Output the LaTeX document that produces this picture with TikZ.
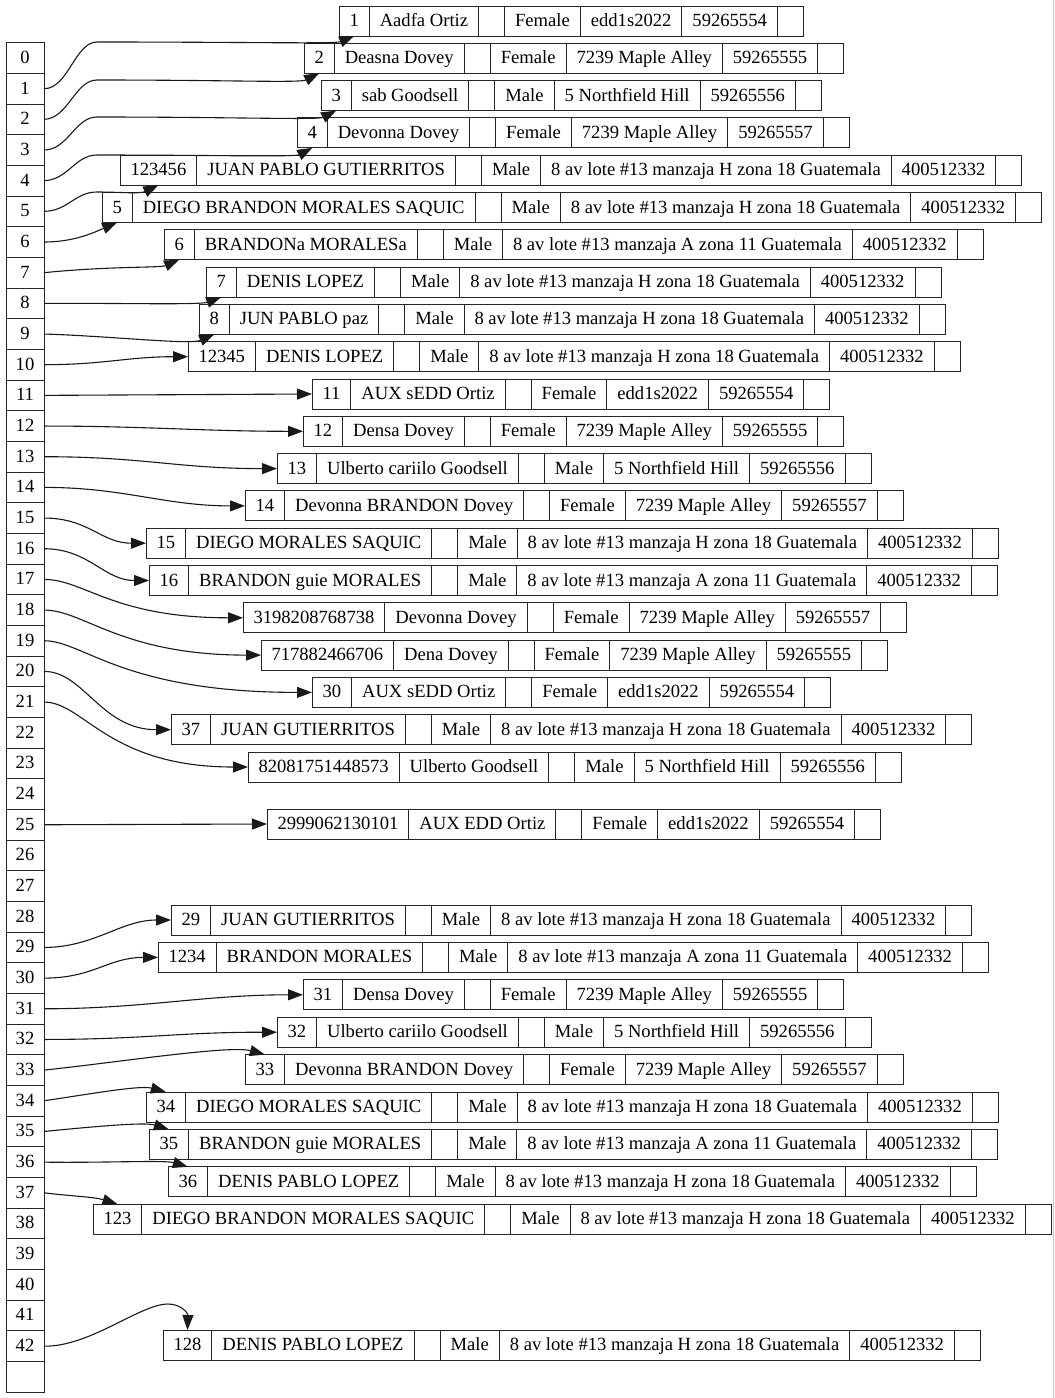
\documentclass[tikz,border=0pt]{standalone}
\usepackage{fontspec}
\setmainfont{Liberation Serif}
\usetikzlibrary{arrows.meta}
\tikzset{
 fld/.style={draw=black!85, line width=1pt, outer sep=0pt, minimum height=30pt, inner xsep=10.5pt, inner ysep=0pt, text height=14pt, text depth=3pt, font=\fontsize{18.6}{20}\selectfont, anchor=west},
 emp/.style={fld, minimum width=26pt},
 idx/.style={draw=black!85, line width=1pt, outer sep=0pt, minimum width=38pt, minimum height=30.67pt, inner sep=0pt, text height=14pt, text depth=3pt, font=\fontsize{18.6}{20}\selectfont},
 lnk/.style={line width=1.1pt, black!90, -{Triangle[length=15pt,width=11pt]}},
}
\newcommand\rec[8]{%
 \node[fld] (#1-1) at (#2,#3) {#4};
 \node[fld] (#1-2) at (#1-1.east) {#5};
 \node[emp] (#1-3) at (#1-2.east) {};
 \node[fld] (#1-4) at (#1-3.east) {#6};
 \node[fld] (#1-5) at (#1-4.east) {#7};
 \node[fld] (#1-6) at (#1-5.east) {#8};
 \node[emp] (#1-7) at (#1-6.east) {};
}
\newcommand\adH{8 av lote \#13 manzaja H zona 18 Guatemala}
\newcommand\adA{8 av lote \#13 manzaja A zona 11 Guatemala}
\begin{document}
\begin{tikzpicture}[x=1pt,y=-1pt]
\useasboundingbox (0,0) rectangle (1055,1398);
\draw[gray!45, line width=1pt] (1053.5,0) -- (1053.5,1398);
% index column
\foreach \i in {0,...,42} { \node[idx] (c\i) at (25,{58+30.67*\i}) {\i}; }
\node[idx] (c43) at (25,{58+30.67*43}) {};
% records
\rec{r1}{339}{21}{1}{Aadfa Ortiz}{Female}{edd1s2022}{59265554}
\rec{r2}{304}{58.3}{2}{Deasna Dovey}{Female}{7239 Maple Alley}{59265555}
\rec{r3}{321}{95.6}{3}{sab Goodsell}{Male}{5 Northfield Hill}{59265556}
\rec{r4}{297}{132.9}{4}{Devonna Dovey}{Female}{7239 Maple Alley}{59265557}
\rec{r5}{120}{170.2}{123456}{JUAN PABLO GUTIERRITOS}{Male}{\adH}{400512332}
\rec{r6}{102}{207.5}{5}{DIEGO BRANDON MORALES SAQUIC}{Male}{\adH}{400512332}
\rec{r7}{164}{244.8}{6}{BRANDONa MORALESa}{Male}{\adA}{400512332}
\rec{r8}{206}{282.1}{7}{DENIS LOPEZ}{Male}{\adH}{400512332}
\rec{r9}{199}{319.4}{8}{JUN PABLO paz}{Male}{\adH}{400512332}
\rec{r10}{188}{356.7}{12345}{DENIS LOPEZ}{Male}{\adH}{400512332}
\rec{r11}{312}{394}{11}{AUX sEDD Ortiz}{Female}{edd1s2022}{59265554}
\rec{r12}{303}{431.3}{12}{Densa Dovey}{Female}{7239 Maple Alley}{59265555}
\rec{r13}{277}{468.6}{13}{Ulberto cariilo Goodsell}{Male}{5 Northfield Hill}{59265556}
\rec{r14}{245}{505.9}{14}{Devonna BRANDON Dovey}{Female}{7239 Maple Alley}{59265557}
\rec{r15}{146}{543.2}{15}{DIEGO MORALES SAQUIC}{Male}{\adH}{400512332}
\rec{r16}{149}{580.5}{16}{BRANDON guie MORALES}{Male}{\adA}{400512332}
\rec{r17}{243}{617.8}{3198208768738}{Devonna Dovey}{Female}{7239 Maple Alley}{59265557}
\rec{r18}{261}{655.1}{717882466706}{Dena Dovey}{Female}{7239 Maple Alley}{59265555}
\rec{r19}{312}{692.4}{30}{AUX sEDD Ortiz}{Female}{edd1s2022}{59265554}
\rec{r20}{171}{729.7}{37}{JUAN GUTIERRITOS}{Male}{\adH}{400512332}
\rec{r21}{248}{767}{82081751448573}{Ulberto Goodsell}{Male}{5 Northfield Hill}{59265556}
\rec{r22}{267}{824}{2999062130101}{AUX EDD Ortiz}{Female}{edd1s2022}{59265554}
\rec{r23}{171}{920}{29}{JUAN GUTIERRITOS}{Male}{\adH}{400512332}
\rec{r24}{158}{957.4}{1234}{BRANDON MORALES}{Male}{\adA}{400512332}
\rec{r25}{303}{994.8}{31}{Densa Dovey}{Female}{7239 Maple Alley}{59265555}
\rec{r26}{277}{1032.2}{32}{Ulberto cariilo Goodsell}{Male}{5 Northfield Hill}{59265556}
\rec{r27}{245}{1069.6}{33}{Devonna BRANDON Dovey}{Female}{7239 Maple Alley}{59265557}
\rec{r28}{146}{1107}{34}{DIEGO MORALES SAQUIC}{Male}{\adH}{400512332}
\rec{r29}{149}{1144.4}{35}{BRANDON guie MORALES}{Male}{\adA}{400512332}
\rec{r30}{168}{1181.8}{36}{DENIS PABLO LOPEZ}{Male}{\adH}{400512332}
\rec{r31}{93}{1219.2}{123}{DIEGO BRANDON MORALES SAQUIC}{Male}{\adH}{400512332}
\rec{r32}{163}{1345}{128}{DENIS PABLO LOPEZ}{Male}{\adH}{400512332}
% links
\draw[lnk] (c1.east) .. controls (68,89) and (75,42) .. (97,42) .. controls (250,42) and (335,44) .. (r1-1.south);
\draw[lnk] (c2.east) .. controls (68,119) and (75,80) .. (97,80) .. controls (230,80) and (300,83) .. (r2-1.south);
\draw[lnk] (c3.east) .. controls (68,150) and (75,117) .. (97,117) .. controls (230,117) and (318,120) .. (r3-1.south);
\draw[lnk] (c4.east) .. controls (68,180) and (75,155) .. (97,155) .. controls (200,155) and (295,157) .. (r4-1.south);
\draw[lnk] (c5.east) .. controls (68,211) and (75,192) .. (97,192) .. controls (120,192) and (140,194) .. (r5-1.south);
\draw[lnk] (c6.east) .. controls (75,242) and (95,232) .. (r6-1.south);
\draw[lnk] (c7.east) .. controls (110,266) and (160,268) .. (r7-1.south);
\draw[lnk] (c8.east) .. controls (120,303) and (200,305) .. (r8-1.south);
\draw[lnk] (c9.east) .. controls (110,336) and (190,345) .. (r9-1.south);
\draw[lnk] (c10.east) .. controls +(60,0) and +(-60,0) .. (r10-1.west);
\draw[lnk] (c11.east) -- (r11-1.west);
\draw[lnk] (c12.east) .. controls +(100,0) and +(-100,0) .. (r12-1.west);
\draw[lnk] (c13.east) .. controls +(100,0) and +(-100,0) .. (r13-1.west);
\draw[lnk] (c14.east) .. controls +(80,0) and +(-80,0) .. (r14-1.west);
\draw[lnk] (c15.east) .. controls +(45,0) and +(-45,0) .. (r15-1.west);
\draw[lnk] (c16.east) .. controls +(45,0) and +(-45,0) .. (r16-1.west);
\draw[lnk] (c17.east) .. controls +(40,0) and +(-130,0) .. (r17-1.west);
\draw[lnk] (c18.east) .. controls +(40,0) and +(-140,0) .. (r18-1.west);
\draw[lnk] (c19.east) .. controls +(40,0) and +(-190,0) .. (r19-1.west);
\draw[lnk] (c20.east) .. controls +(40,0) and +(-70,0) .. (r20-1.west);
\draw[lnk] (c21.east) .. controls +(40,0) and +(-140,0) .. (r21-1.west);
\draw[lnk] (c25.east) -- (r22-1.west);
\draw[lnk] (c29.east) .. controls +(50,0) and +(-50,0) .. (r23-1.west);
\draw[lnk] (c30.east) .. controls +(50,0) and +(-50,0) .. (r24-1.west);
\draw[lnk] (c31.east) .. controls +(100,0) and +(-100,0) .. (r25-1.west);
\draw[lnk] (c32.east) .. controls +(100,0) and +(-100,0) .. (r26-1.west);
\draw[lnk] (c33.east) .. controls (120,1062) and (230,1045) .. (r27-1.north);
\draw[lnk] (c34.east) .. controls (90,1094) and (140,1085) .. (r28-1.north);
\draw[lnk] (c35.east) .. controls (100,1126) and (145,1122) .. (r29-1.north);
\draw[lnk] (c36.east) .. controls (100,1163) and (165,1160) .. (r30-1.north);
\draw[lnk] (c37.east) .. controls (70,1196) and (95,1197) .. (r31-1.north);
\draw[lnk] (c42.east) .. controls (90,1347) and (140,1304) .. (168,1304) .. controls (181,1304) and (188,1313) .. (r32-1.north);
\end{tikzpicture}
\end{document}
